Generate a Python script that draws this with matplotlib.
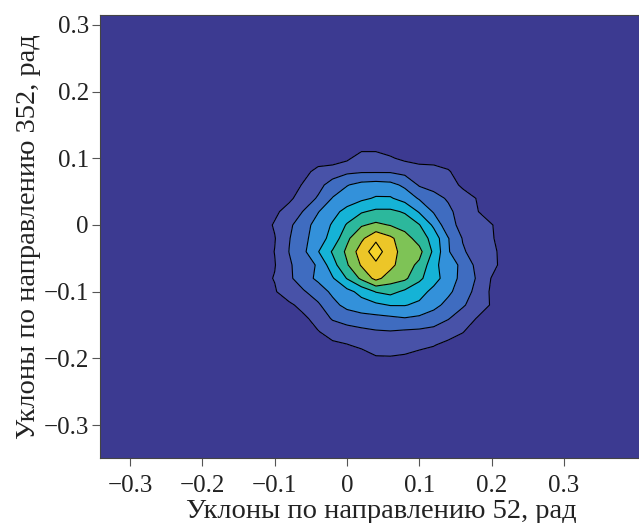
import numpy as np
import matplotlib.pyplot as plt

# grid of the slope histogram (rad)
x_centers = [-0.14, -0.12, -0.10, -0.08, -0.06, -0.04, -0.02, 0.00, 0.02, 0.04,
             0.06, 0.08, 0.10, 0.12, 0.14, 0.16, 0.18, 0.20, 0.22, 0.24]
y_centers = [0.14, 0.12, 0.10, 0.08, 0.06, 0.04, 0.02, 0.00, -0.02, -0.04,
             -0.06, -0.08, -0.10, -0.12, -0.14, -0.16, -0.18, -0.20, -0.22, -0.24]

# relative density (in contour-level units), one row per y_centers value
density = [
    [0, 0, 0, 0, 0, 0, 0, 0, 0, 0, 0, 0, 0, 0, 0, 0, 0, 0, 0, 0],
    [0, 0, 0, 0, 0, 0, 0, 0, 0, 0, 0, 0, 0, 0, 0, 0, 0, 0, 0, 0],
    [0, 0, 0, 0, 0, 0, 0, 0.3, 1.0, 1.0, 0.6, 0.3, 0.1, 0, 0, 0, 0, 0, 0, 0],
    [0, 0, 0, 0, 0.2, 0.8, 1.0, 1.3, 1.4, 1.4, 1.4, 1.2, 1.0, 1.0, 0.6, 0, 0, 0, 0, 0],
    [0, 0, 0, 0, 0.6, 1.2, 1.9, 2.45, 2.8, 2.9, 2.8, 2.3, 1.4, 1.2, 1.0, 0.3, 0, 0, 0, 0],
    [0, 0, 0, 0.3, 1.0, 1.6, 2.55, 3.0, 3.3, 3.6, 3.6, 3.1, 2.4, 1.8, 1.4, 1.0, 0.45, 0, 0, 0],
    [0, 0, 0.3, 0.9, 1.55, 2.45, 3.2, 3.8, 4.4, 4.7, 4.7, 4.4, 3.4, 2.4, 1.7, 1.1, 0.55, 0, 0, 0],
    [0, 0, 0.6, 1.3, 2.1, 2.9, 3.6, 4.6, 5.4, 5.7, 5.45, 5.1, 4.55, 3.3, 1.8, 1.25, 1.0, 0.55, 0, 0],
    [0, 0, 0.45, 1.45, 2.2, 3.1, 3.8, 5.3, 6.3, 7.3, 6.7, 5.9, 5.1, 4.1, 2.55, 1.45, 1.1, 0.6, 0, 0],
    [0, 0, 0.52, 1.52, 2.3, 3.45, 4.6, 5.7, 7.0, 8.0, 6.9, 6.1, 5.8, 4.3, 2.6, 1.6, 1.15, 0.8, 0, 0],
    [0, 0.2, 0.45, 1.35, 2.1, 2.6, 4.1, 5.4, 6.6, 7.3, 6.8, 5.9, 5.3, 3.8, 2.9, 2.3, 1.2, 0.85, 0, 0],
    [0, 0.2, 0.55, 1.3, 2.1, 2.7, 3.4, 4.55, 5.7, 6.8, 6.0, 5.7, 4.7, 3.9, 3.0, 2.2, 1.4, 0.45, 0, 0],
    [0, 0, 0.4, 1.1, 1.4, 2.0, 2.7, 3.2, 3.8, 4.55, 4.8, 4.3, 3.9, 3.2, 2.7, 2.0, 1.2, 0.35, 0, 0],
    [0, 0, 0, 0.3, 0.85, 1.35, 2.2, 2.8, 3.1, 3.3, 3.55, 3.55, 3.3, 2.8, 2.2, 1.6, 1.1, 0.4, 0, 0],
    [0, 0, 0, 0, 0.3, 0.9, 1.6, 1.9, 2.1, 2.2, 2.3, 2.45, 2.3, 2.0, 1.55, 1.1, 0.45, 0, 0, 0],
    [0, 0, 0, 0, 0, 0.45, 0.9, 1.1, 1.25, 1.4, 1.45, 1.35, 1.3, 1.2, 1.0, 0.55, 0, 0, 0, 0],
    [0, 0, 0, 0, 0, 0, 0.3, 0.45, 0.7, 0.9, 1.0, 0.95, 0.8, 0.55, 0.2, 0, 0, 0, 0, 0],
    [0, 0, 0, 0, 0, 0, 0, 0, 0, 0.4, 0.4, 0.3, 0, 0, 0, 0, 0, 0, 0, 0],
    [0, 0, 0, 0, 0, 0, 0, 0, 0, 0, 0, 0, 0, 0, 0, 0, 0, 0, 0, 0],
    [0, 0, 0, 0, 0, 0, 0, 0, 0, 0, 0, 0, 0, 0, 0, 0, 0, 0, 0, 0],
]

level_colors = ['#3c3a91', '#4852a8', '#3f6cc0', '#3391da', '#15b3d6',
                '#2cb89c', '#7ec356', '#ecc628', '#f7d42a']

x_ticks = [-0.3, -0.2, -0.1, 0.0, 0.1, 0.2, 0.3]
y_ticks = [-0.3, -0.2, -0.1, 0.0, 0.1, 0.2, 0.3]

x_label = 'Уклоны по направлению 52, рад'
y_label = 'Уклоны по направлению 352, рад'


def tick_text(v):
    if v == 0:
        return '0'
    return f'{v:.1f}'.replace('-', '\u2212')


def draw_map():
    plt.rcParams['font.family'] = ['Liberation Serif', 'DejaVu Serif']
    fig = plt.figure(figsize=(6.39, 5.23), dpi=100)
    ax = fig.add_axes([100 / 639, 65 / 523, 539 / 639, 443 / 523])
    ax.set_facecolor(level_colors[0])

    X, Y = np.meshgrid(x_centers, y_centers)
    Z = np.array(density)
    levels = [-1] + [k + 0.5 for k in range(8)] + [10]
    ax.contourf(X, Y, Z, levels=levels, colors=level_colors)
    ax.contour(X, Y, Z, levels=levels[1:-1], colors='black', linewidths=0.8)

    ax.set_xlim(-0.3416, 0.4039)
    ax.set_ylim(-0.3493, 0.3148)

    ax.set_xticks(x_ticks)
    ax.set_xticklabels([tick_text(v) for v in x_ticks])
    ax.set_yticks(y_ticks)
    ax.set_yticklabels([tick_text(v) for v in y_ticks])
    ax.tick_params(direction='out', length=5.5, width=0.8, color='#555555',
                   labelsize=18, pad=2.5, labelcolor='#222222')
    ax.tick_params(axis='x', pad=7)

    for s in ax.spines.values():
        s.set_color('#444444')
        s.set_linewidth(0.8)

    ax.set_xlabel(x_label, fontsize=20.5, color='#222222')
    ax.xaxis.set_label_coords(0.521, -0.1354, transform=ax.transAxes)
    ax.xaxis.label.set_va('baseline')
    ax.set_ylabel(y_label, fontsize=20.5, color='#222222', labelpad=2)

    fig.savefig('out.png', dpi=100)


def main():
    draw_map()


if __name__ == '__main__':
    main()
